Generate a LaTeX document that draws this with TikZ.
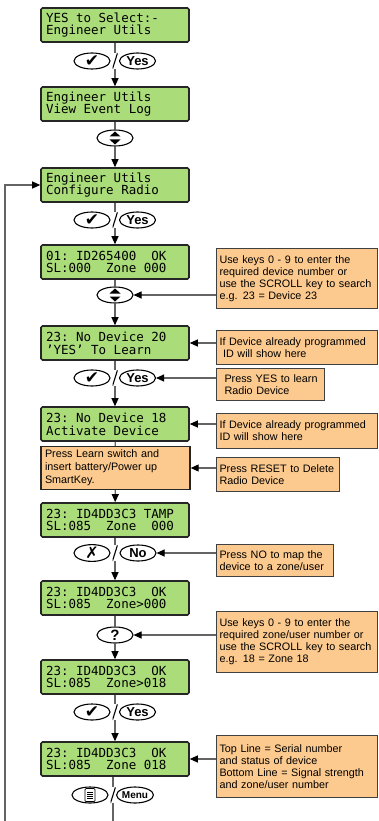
\documentclass[tikz,border=0pt]{standalone}
\usepackage{fontspec}
\setmainfont{Liberation Sans}
\newfontfamily\lcdfont{DejaVu Sans Mono}
\newfontfamily\symbfont{DejaVu Sans}
\usetikzlibrary{arrows.meta,shapes.geometric,calc}

\definecolor{lcdgreen}{RGB}{170,220,122}
\definecolor{noteorange}{RGB}{252,202,142}
\definecolor{linegray}{RGB}{100,100,100}

\newcommand{\okglyph}{{\symbfont\fontsize{17}{17}\selectfont ✔}}
\newcommand{\noglyph}{{\symbfont\fontsize{16}{16}\selectfont ✗}}
\newcommand{\lsp}{\hphantom{0}}

\tikzset{
  lcd/.style={draw=black!85, line width=1.6pt, fill=lcdgreen, rounded corners=1.5pt,
    minimum width=148pt, minimum height=34pt, text width=138pt, inner xsep=5pt,
    align=left, font=\lcdfont\fontsize{12.5}{12.7}\selectfont},
  flownote/.style={draw=black!85, line width=1.4pt, fill=noteorange,
    minimum width=149pt, minimum height=42pt, text width=141pt, inner xsep=4pt,
    align=left, font=\fontsize{10.8}{13}\selectfont},
  note/.style={draw=black!75, line width=1pt, fill=noteorange, anchor=north west,
    inner xsep=3pt, inner ysep=2pt, align=left, font=\fontsize{10.8}{12}\selectfont},
  key/.style={draw, ellipse, line width=1.1pt, fill=white, minimum width=36pt,
    minimum height=16pt, inner sep=0pt, font=\bfseries\fontsize{13}{13}\selectfont},
  scrollkey/.style={key, path picture={
      \fill[black] ($(path picture bounding box.center)+(0pt,6.5pt)$) -- ++(5.5pt,-5pt) -- ++(-11pt,0pt) -- cycle;
      \fill[black] ($(path picture bounding box.center)+(0pt,-6.5pt)$) -- ++(5.5pt,5pt) -- ++(-11pt,0pt) -- cycle;}},
  menukey/.style={key, path picture={
      \coordinate (mc) at (path picture bounding box.center);
      \draw[line width=0.7pt, rounded corners=1pt] ($(mc)+(-5pt,-6.5pt)$) rectangle ($(mc)+(5pt,6.5pt)$);
      \foreach \k in {-3,-1,1,3}
        \draw[line width=0.5pt] ($(mc)+(-3pt,\k pt)$) -- ($(mc)+(3pt,\k pt)$);}},
  slashmark/.style={minimum width=5pt, minimum height=16pt, inner sep=0pt, path picture={
      \draw[line width=1.1pt] (path picture bounding box.north east) -- (path picture bounding box.south west);}},
  flow/.style={draw=linegray, line width=1.1pt},
}

\begin{document}
\begin{tikzpicture}[x=1pt, y=-1pt, >={Triangle[length=8pt,width=7pt,black]}]
  \useasboundingbox (0,0) rectangle (378,821);

  % screens down the middle
  \node[lcd] (selUtils) at (115,25) {YES\lsp to\lsp Select:-\\Engineer\lsp Utils};
  \node[lcd] (eventLog) at (115,104) {Engineer\lsp Utils\\View\lsp Event\lsp Log};
  \node[lcd] (cfgRadio) at (115,185) {Engineer\lsp Utils\\Configure\lsp Radio};
  \node[lcd] (devNum) at (115,262) {01:\lsp ID265400\lsp\lsp OK\\SL:000\lsp\lsp Zone\lsp 000};
  \node[lcd] (toLearn) at (115,343) {23:\lsp No\lsp Device\lsp 20\\’YES’\lsp To\lsp Learn};
  \node[lcd] (activate) at (115,424) {23:\lsp No\lsp Device\lsp 18\\Activate\lsp Device};
  \node[flownote] (learnSw) at (115.5,468) {Press Learn switch and\\insert battery/Power up\\SmartKey.};
  \node[lcd] (tamper) at (115,520) {23:\lsp ID4DD3C3\lsp TAMP\\SL:085\lsp\lsp Zone\lsp\lsp 000};
  \node[lcd] (zoneSel) at (115,598) {23:\lsp ID4DD3C3\lsp\lsp OK\\SL:085\lsp\lsp Zone>000};
  \node[lcd] (zoneNew) at (115,677) {23:\lsp ID4DD3C3\lsp\lsp OK\\SL:085\lsp\lsp Zone>018};
  \node[lcd] (zoneDone) at (115,759) {23:\lsp ID4DD3C3\lsp\lsp OK\\SL:085\lsp\lsp Zone\lsp 018};

  % keys
  \node[key] (okA) at (92,61) {\okglyph};
  \node[key] (yesA) at (137.5,61) {Yes};
  \node[slashmark] (slA) at (115,61) {};
  \node[scrollkey] (scrA) at (115,138) {};
  \node[key] (okB) at (92,220) {\okglyph};
  \node[key] (yesB) at (137.5,220) {Yes};
  \node[slashmark] (slB) at (115,220) {};
  \node[scrollkey] (scrB) at (115,295) {};
  \node[key] (okC) at (92,378) {\okglyph};
  \node[key] (yesC) at (137.5,378) {Yes};
  \node[slashmark] (slC) at (115,378) {};
  \node[key] (crossD) at (92,553) {\noglyph};
  \node[key] (noD) at (138,553) {No};
  \node[slashmark] (slD) at (115,553) {};
  \node[key, font=\bfseries\fontsize{15}{15}\selectfont] (askZone) at (115,635) {?};
  \node[key] (okE) at (92,712) {\okglyph};
  \node[key] (yesE) at (137.5,712) {Yes};
  \node[slashmark] (slE) at (115,712) {};
  \node[menukey] (menuIcon) at (90,795) {};
  \node[key, font=\bfseries\fontsize{10}{10}\selectfont] (menuF) at (135,795) {Menu};
  \node[slashmark] (slF) at (113,795) {};

  \coordinate (mainFoot) at (113,821);
  \coordinate (loopFoot) at (5,821);

  % notes on the right
  \node[note, text width=155pt, minimum height=60pt] (hintNum) at (216,248)
    {Use keys 0 - 9 to enter the\\required device number or\\use the SCROLL key to search\\e.g. 23 = Device 23};
  \node[note, text width=155pt, minimum height=34pt] (hintId) at (216,330)
    {If Device already programmed\\\ ID will show here};
  \node[note, text width=98pt, inner xsep=5pt, minimum height=32pt] (hintYes) at (216,368)
    {\hspace*{3pt}Press YES to learn\\\hspace*{3pt}Radio Device};
  \node[note, text width=155pt, minimum height=35pt] (hintIdB) at (216,413)
    {If Device already programmed\\ID will show here};
  \node[note, text width=117pt, minimum height=34pt] (hintReset) at (216,457)
    {Press RESET to Delete\\Radio Device};
  \node[note, text width=111pt, minimum height=32pt] (hintNo) at (216,544)
    {Press NO to map the\\device to a zone/user};
  \node[note, text width=155pt, minimum height=61pt] (hintZone) at (216,611)
    {Use keys 0 - 9 to enter the\\required zone/user number or\\use the SCROLL key to search\\e.g. 18 = Zone 18};
  \node[note, text width=155pt, minimum height=62pt] (hintLines) at (216,735)
    {Top Line = Serial number\\and status of device\\Bottom Line = Signal strength\\and zone/user number};

  % main flow
  \draw[flow] (selUtils) -- (slA);
  \draw[flow, ->] (slA) -- (eventLog);
  \draw[flow] (eventLog) -- (scrA);
  \draw[flow, ->] (scrA) -- (cfgRadio);
  \draw[flow] (cfgRadio) -- (slB);
  \draw[flow, ->] (slB) -- (devNum);
  \draw[flow] (devNum) -- (scrB);
  \draw[flow, ->] (scrB) -- (toLearn);
  \draw[flow] (toLearn) -- (slC);
  \draw[flow, ->] (slC) -- (activate);
  \draw[flow] (activate) -- (learnSw);
  \draw[flow, ->] (learnSw) -- (tamper);
  \draw[flow] (tamper) -- (slD);
  \draw[flow, ->] (slD) -- (zoneSel);
  \draw[flow] (zoneSel) -- (askZone);
  \draw[flow, ->] (askZone) -- (zoneNew);
  \draw[flow] (zoneNew) -- (slE);
  \draw[flow, ->] (slE) -- (zoneDone);
  \draw[flow] (zoneDone.south -| slF) -- (slF);
  \draw[flow] (slF) -- (mainFoot);
  \draw[flow, ->] (loopFoot) |- (cfgRadio);

  % notes to keys and screens
  \draw[flow, ->] (scrB -| hintNum.west) -- (scrB);
  \draw[flow, ->] (toLearn -| hintId.west) -- (toLearn);
  \draw[flow, ->] (yesC -| hintYes.west) -- (yesC);
  \draw[flow, ->] (activate -| hintIdB.west) -- (activate);
  \draw[flow, ->] (learnSw -| hintReset.west) -- (learnSw);
  \draw[flow, ->] (noD -| hintNo.west) -- (noD);
  \draw[flow, ->] (askZone -| hintZone.west) -- (askZone);
  \draw[flow, ->] (zoneDone -| hintLines.west) -- (zoneDone);
\end{tikzpicture}
\end{document}
